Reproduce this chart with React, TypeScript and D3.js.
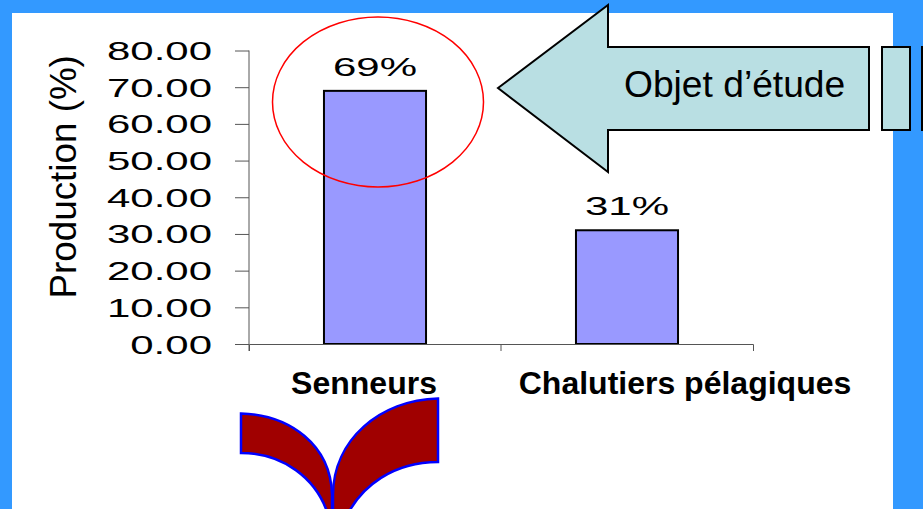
import React, { useEffect, useRef } from "react";
import { axisBottom, axisLeft, scaleBand, scaleLinear, select } from "d3";

const categories = ["Senneurs", "Chalutiers pélagiques"];
const categoryShift = [-11, 58];
const values = [69, 31];
const valueLabels = ["69%", "31%"];
const yTicks = [0, 10, 20, 30, 40, 50, 60, 70, 80];

const width = 923;
const height = 509;
const plot = { left: 249, right: 753, top: 50.5, bottom: 344 };
const font = "'Liberation Sans', Arial, sans-serif";
const stretch = 1.68;

export default function App() {
  const xAxisRef = useRef<SVGGElement>(null);
  const yAxisRef = useRef<SVGGElement>(null);

  const x = scaleBand()
    .domain(categories)
    .range([plot.left, plot.right])
    .paddingInner(0.595)
    .paddingOuter(0.2975);
  const y = scaleLinear().domain([0, 80]).range([plot.bottom, plot.top]);

  useEffect(() => {
    const gx = select(xAxisRef.current);
    gx.call(axisBottom(x).tickSize(0).tickSizeOuter(7).tickPadding(30));
    gx.selectAll(".tick line").remove();
    gx.select(".domain").attr("stroke", "#555").attr("stroke-width", 1);
    gx.selectAll("text")
      .attr("font-family", font)
      .attr("font-size", 32)
      .attr("font-weight", "bold")
      .attr("fill", "#000")
      .attr("dy", 0)
      .attr("y", 50)
      .attr("x", (_: any, i: number) => categoryShift[i]);
    // middle tick between the two categories
    gx.selectAll(".mid").remove();
    gx.append("line")
      .attr("class", "mid")
      .attr("x1", (plot.left + plot.right) / 2)
      .attr("x2", (plot.left + plot.right) / 2)
      .attr("y1", 0)
      .attr("y2", 7)
      .attr("stroke", "#555");

    const gy = select(yAxisRef.current);
    gy.call(
      axisLeft(y)
        .tickValues(yTicks)
        .tickSize(14)
        .tickSizeOuter(0)
        .tickFormat((d: any) => d.toFixed(2)),
    );
    gy.select(".domain").attr("stroke", "#555").attr("d", `M0,${plot.top}V${plot.bottom + 7}`);
    gy.selectAll(".tick line").attr("stroke", "#555");
    gy.selectAll("text")
      .attr("font-family", font)
      .attr("font-size", 25)
      .attr("fill", "#000")
      .attr("x", 0)
      .attr("dy", "0.36em")
      .attr("transform", `translate(-37,0) scale(${stretch},1)`);
  }, []);

  return (
    <svg
      width={width}
      height={height}
      style={{ position: "absolute", left: 0, top: 0, display: "block" }}
    >
      <rect width={width} height={height} fill="#3399ff" />
      <rect x={12} y={13} width={881} height={height - 13} fill="#fff" />

      {categories.map((c, i) => (
        <rect
          key={c}
          x={x(c)}
          y={y(values[i])}
          width={x.bandwidth()}
          height={y(0) - y(values[i])}
          fill="#9999ff"
          stroke="#000"
          strokeWidth={2}
        />
      ))}
      {categories.map((c, i) => (
        <text
          key={c}
          transform={`translate(${x(c)! + x.bandwidth() / 2},${y(values[i]) - 15}) scale(${stretch},1)`}
          textAnchor="middle"
          fontFamily={font}
          fontSize={25}
          fill="#000"
        >
          {valueLabels[i]}
        </text>
      ))}

      <g ref={yAxisRef} transform={`translate(${plot.left},0)`} />
      <g ref={xAxisRef} transform={`translate(0,${plot.bottom})`} />

      <text
        transform="translate(76,298.500) rotate(-90)"
        fontFamily={font}
        fontSize={36.8}
        fill="#000"
      >
        Production (%)
      </text>

      <ellipse cx={378} cy={102} rx={105.5} ry={85} fill="none" stroke="#f00" strokeWidth={1.5} />

      <path
        d="M498,88L608,5V47H869V130H608V172Z"
        fill="#b9dfe3"
        stroke="#000"
        strokeWidth={2}
      />
      <rect x={882} y={47} width={28} height={83} fill="#b9dfe3" stroke="#000" strokeWidth={2} />
      <rect x={922} y={47} width={10} height={83} fill="#b9dfe3" stroke="#000" strokeWidth={2} />
      <text x={624} y={97} fontFamily={font} fontSize={37.2} fill="#000">
        Objet d’étude
      </text>

      <g fill="#a00000" stroke="#0000ff" strokeWidth={2.5}>
        <path d="M241,413.500C290,415 331,445 332,495L332,520L326,509C315,480 285,453 241,453Z" />
        <path d="M438,398.500C380,400 333,440 333,495L333,520H345C360,485 395,462 438,462Z" />
      </g>
    </svg>
  );
}
